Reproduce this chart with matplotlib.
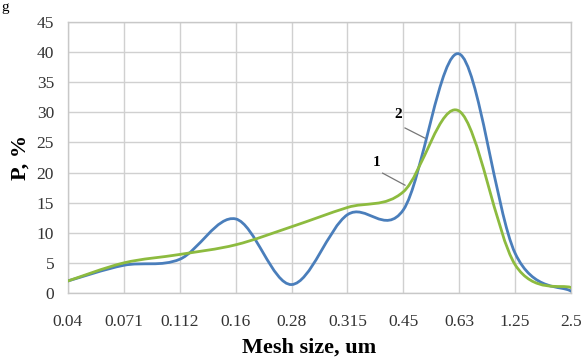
import numpy as np
import matplotlib
matplotlib.use("Agg")
import matplotlib.pyplot as plt
from matplotlib.path import Path
from matplotlib.patches import PathPatch

plt.rcParams['font.family'] = ['Liberation Serif', 'DejaVu Serif']

# data
mesh_labels = ['0.04', '0.071', '0.112', '0.16', '0.28', '0.315', '0.45', '0.63', '1.25', '2.5']
curve_blue = [2.0, 4.6, 5.6, 12.3, 1.4, 13.0, 13.8, 39.7, 6.6, 0.3]
curve_green = [2.0, 5.0, 6.4, 8.0, 11.0, 14.2, 16.8, 30.2, 4.7, 0.9]
y_ticks = [0, 5, 10, 15, 20, 25, 30, 35, 40, 45]


def smooth_path(xs, ys):
    # Excel-style smoothed line: cubic bezier segments through the points
    pts = np.column_stack([xs, ys]).astype(float)
    n = len(pts)
    verts = [pts[0]]
    codes = [Path.MOVETO]
    for i in range(n - 1):
        p0 = pts[i - 1] if i > 0 else pts[i]
        p1 = pts[i]
        p2 = pts[i + 1]
        p3 = pts[i + 2] if i + 2 < n else pts[i + 1]
        c1 = p1 + (p2 - p0) / 6
        c2 = p2 - (p3 - p1) / 6
        verts += [c1, c2, p2]
        codes += [Path.CURVE4] * 3
    return Path(verts, codes)


fig = plt.figure(figsize=(5.82, 3.58), dpi=100)
ax = fig.add_axes([0.1168, 0.1816, 0.8643, 0.757])

x = np.arange(len(mesh_labels))
for ys, col in [(curve_blue, '#4a7ebb'), (curve_green, '#8dbb3f')]:
    ax.add_patch(PathPatch(smooth_path(x, ys), fill=False, edgecolor=col, lw=2.0,
                           capstyle='round', zorder=3))

ax.set_xlim(0, len(mesh_labels) - 1)
ax.set_ylim(0, 45)
ax.set_xticks(x)
ax.set_xticklabels(mesh_labels)
ax.set_yticks(y_ticks)
ax.grid(True, color='#d0d0d0', lw=1.0)
ax.set_axisbelow(True)
for s in ax.spines.values():
    s.set_color('#c8c8c8')
    s.set_linewidth(1.0)
ax.tick_params(length=0, labelsize=12.5, colors='#333333')
ax.tick_params(axis='x', pad=15)
ax.tick_params(axis='y', pad=10)

ax.set_xlabel('Mesh size, um', fontsize=16, fontweight='bold')
ax.xaxis.set_label_coords(0.48, -0.163)
ax.set_ylabel('P, %', fontsize=16, fontweight='bold')
ax.yaxis.set_label_coords(-0.075, 0.5)

# curve numbers with leader lines
ax.text(5.90, 29.6, '2', fontsize=11, fontweight='bold', ha='center', va='center')
ax.plot([6.03, 6.39], [27.4, 25.7], color='#777777', lw=0.9, zorder=4)
ax.text(5.53, 21.6, '1', fontsize=11, fontweight='bold', ha='center', va='center')
ax.plot([5.63, 6.03], [19.9, 17.9], color='#777777', lw=0.9, zorder=4)

# caption fragment at top-left
fig.text(0.003, 0.998, 'g', fontsize=11, ha='left', va='top')

fig.savefig('out.png', dpi=100)
